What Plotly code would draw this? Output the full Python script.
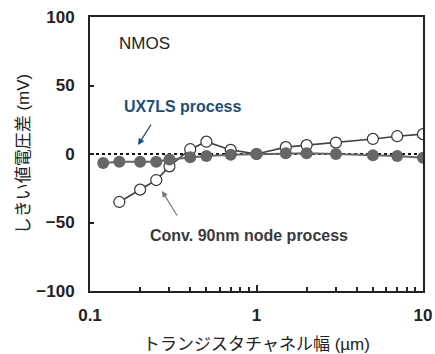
import plotly.graph_objects as go

# Data
width_um = [0.12, 0.15, 0.2, 0.25, 0.3, 0.4, 0.5, 0.7, 1, 1.5, 2, 3, 5, 7, 10]
ux7ls_mv = [-6.5, -5.6, -5.6, -5.6, -4.0, -2.4, -1.5, -0.5, 0.0, 0.5, 0.5, 0.0, -1.0, -1.5, -2.8]

conv_width_um = [0.15, 0.2, 0.25, 0.3, 0.4, 0.5, 0.7, 1, 1.5, 2, 3, 5, 7, 10]
conv_mv = [-35, -26, -19, -9, 3.5, 9, 3, 0, 5, 6.5, 8.3, 11, 13, 14.5]

x_tick_vals = [0.1, 1, 10]
x_tick_text = ["0.1", "1", "10"]
x_minor_vals = [0.2, 0.3, 0.4, 0.5, 0.6, 0.7, 0.8, 0.9, 2, 3, 4, 5, 6, 7, 8, 9]
y_tick_vals = [-100, -50, 0, 50, 100]

FONT = "Liberation Sans, Arial, Noto Sans CJK JP, sans-serif"
JFONT = "Liberation Sans, Noto Sans CJK JP, sans-serif"

fig = go.Figure()

fig.add_trace(go.Scatter(
    x=conv_width_um, y=conv_mv, mode="lines+markers",
    line=dict(color="#444444", width=1.6),
    marker=dict(size=11, color="white", line=dict(color="#333333", width=1.2)),
    showlegend=False, name="Conv. 90nm node process",
))
fig.add_trace(go.Scatter(
    x=width_um, y=ux7ls_mv, mode="lines+markers",
    line=dict(color="#666666", width=2),
    marker=dict(size=12, color="#666666"),
    showlegend=False, name="UX7LS process",
))

fig.add_shape(type="line", xref="paper", yref="y", x0=0, x1=1, y0=0, y1=0,
              line=dict(color="#111111", width=2, dash="dot"), layer="below")

fig.add_annotation(text="NMOS", xref="paper", yref="paper", x=0.081, y=0.905,
                   xanchor="left", yanchor="middle", showarrow=False,
                   font=dict(family=FONT, size=17, color="#222222"))
fig.add_annotation(text="UX7LS process", xref="paper", yref="paper", x=0.096, y=0.672,
                   xanchor="left", yanchor="middle", showarrow=False,
                   font=dict(family=FONT, size=16, color="#1b4f7a", weight="bold"))
fig.add_annotation(text="", xref="paper", yref="paper", x=(138 - 90) / 333, y=(291 - 145) / 274,
                   ax=14, ay=-22, showarrow=True, arrowhead=2, arrowsize=1,
                   arrowwidth=1.3, arrowcolor="#1b4f7a")
fig.add_annotation(text="Conv. 90nm node process", xref="paper", yref="paper", x=0.174, y=0.204,
                   xanchor="left", yanchor="middle", showarrow=False,
                   font=dict(family=FONT, size=16, color="#3a3a3a", weight="bold"))
fig.add_annotation(text="", xref="paper", yref="paper", x=(162 - 90) / 333, y=(291 - 191) / 274,
                   ax=16, ay=26, showarrow=True, arrowhead=2, arrowsize=1,
                   arrowwidth=1.2, arrowcolor="#777777")

fig.update_layout(
    width=435, height=354,
    margin=dict(l=90, r=12, t=17, b=63),
    paper_bgcolor="white", plot_bgcolor="white",
    font=dict(family=FONT, color="#222222"),
    xaxis=dict(
        type="log", range=[-1, 1], automargin=False,
        tickvals=x_tick_vals, ticktext=x_tick_text,
        ticks="inside", ticklen=6, tickwidth=1.5, tickcolor="#222222",
        minor=dict(tickvals=x_minor_vals, ticks="inside", ticklen=4, tickwidth=1.5, tickcolor="#222222"),
        showline=True, linewidth=2, linecolor="#222222", mirror=True,
        showgrid=False, zeroline=False,
        tickfont=dict(family=FONT, size=17, color="#222222", weight="bold"),
        ticklabelstandoff=8,
        title=dict(text="トランジスタチャネル幅 (µm)", font=dict(family=JFONT, size=17, color="#222222"), standoff=21),
    ),
    yaxis=dict(
        range=[-100, 100], automargin=False,
        tickvals=y_tick_vals,
        ticks="inside", ticklen=4, tickwidth=1.5, tickcolor="#222222",
        showline=True, linewidth=2, linecolor="#222222", mirror=True,
        showgrid=False, zeroline=False,
        tickfont=dict(family=FONT, size=17, color="#222222", weight="bold"),
        ticklabelstandoff=10,
        title=dict(text="しきい値電圧差 (mV)", font=dict(family=JFONT, size=17, color="#222222"), standoff=2),
    ),
)

fig.write_html("out.html")
